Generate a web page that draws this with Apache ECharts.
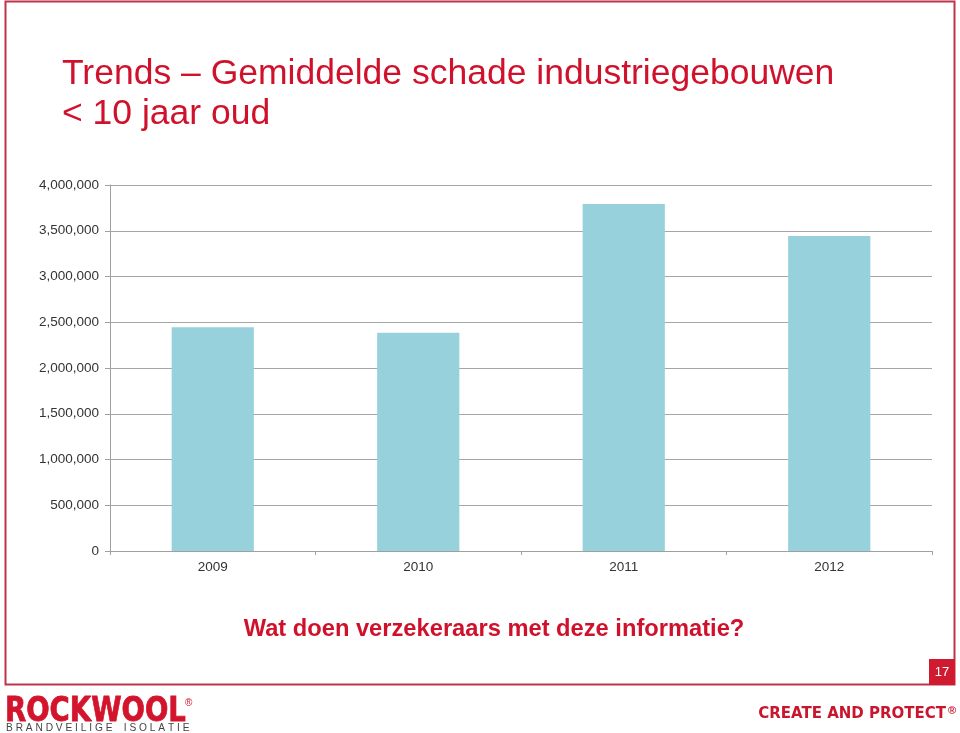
<!DOCTYPE html>
<html>
<head>
<meta charset="utf-8">
<script src="https://cdn.jsdelivr.net/npm/echarts@6/dist/echarts.min.js"></script>
<style>
html,body{margin:0;padding:0;background:#fff;}
#main{width:960px;height:733px;}
</style>
</head>
<body>
<div id="main"></div>
<script>
const categories = ['2009', '2010', '2011', '2012'];
const schade = [2445000, 2386000, 3792000, 3443000];
const yMin = 0, yMax = 4000000, yStep = 500000;
const titleLines = ['Trends \u2013 Gemiddelde schade industriegebouwen', '< 10 jaar oud'];
const subtitle = 'Wat doen verzekeraars met deze informatie?';
const pageNumber = '17';

const RED = '#d0112b';
const chart = echarts.init(document.getElementById('main'), null, {renderer: 'canvas'});
chart.setOption({
  backgroundColor: '#fff',
  animation: false,
  title: [
    {
      text: titleLines.join('\n'),
      left: 57, top: 49,
      textStyle: {fontFamily: 'Liberation Sans, Arial, sans-serif', fontSize: 35.5, fontWeight: 'normal', color: RED, lineHeight: 40}
    },
    {
      text: subtitle,
      left: 489, top: 612, textAlign: 'center',
      textStyle: {fontFamily: 'Liberation Sans, Arial, sans-serif', fontSize: 23.7, fontWeight: 'bold', color: RED}
    }
  ],
  grid: {left: 110, right: 28, top: 185, bottom: 182, containLabel: false},
  xAxis: {
    type: 'category',
    data: categories,
    axisLine: {lineStyle: {color: '#a0a0a0', width: 1}},
    axisTick: {show: true, length: 4, lineStyle: {color: '#a0a0a0'}},
    axisLabel: {color: '#333', fontSize: 13.5, fontFamily: 'Liberation Sans, Arial, sans-serif', margin: 9}
  },
  yAxis: {
    type: 'value',
    min: yMin, max: yMax, interval: yStep,
    axisLine: {show: true, lineStyle: {color: '#a0a0a0', width: 1}},
    axisTick: {show: true, length: 5, lineStyle: {color: '#a0a0a0'}},
    splitLine: {lineStyle: {color: '#a6a6a6', width: 1}},
    axisLabel: {
      color: '#333', fontSize: 13.5, fontFamily: 'Liberation Sans, Arial, sans-serif', margin: 11,
      formatter: v => v.toLocaleString('en-US')
    }
  },
  series: [{
    type: 'bar',
    data: schade,
    barWidth: '40%',
    itemStyle: {color: '#96d1dc'}
  }],
  graphic: [
    {type: 'rect', shape: {x: 5.5, y: 1.5, width: 949, height: 683}, style: {fill: 'none', stroke: '#c0344b', lineWidth: 2}, z: 10},
    {type: 'rect', shape: {x: 929, y: 659, width: 26, height: 26}, style: {fill: '#cf1a30'}, z: 11},
    {type: 'text', x: 942, y: 672, style: {text: pageNumber, fill: '#fff', fontSize: 13, fontFamily: 'Liberation Sans, Arial, sans-serif', align: 'center', verticalAlign: 'middle'}, z: 12},
    {type: 'text', x: 5, y: 712, scaleX: 0.81, style: {text: 'ROCKWOOL', fill: '#d2142c', fontSize: 34, fontWeight: 'bold', fontFamily: 'DejaVu Sans, Liberation Sans, sans-serif', verticalAlign: 'middle', stroke: '#d2142c', lineWidth: 0.8}, z: 12},
    {type: 'text', x: 185, y: 703, style: {text: '\u00ae', fill: '#d2142c', fontSize: 10, fontFamily: 'Liberation Sans, Arial, sans-serif', verticalAlign: 'middle'}, z: 12},
    {type: 'text', x: 6, y: 728, style: {text: 'B R A N D V E I L I G E    I S O L A T I E', fill: '#444', fontSize: 10.2, fontFamily: 'Liberation Sans, Arial, sans-serif', verticalAlign: 'middle'}, z: 12},
    {type: 'text', x: 946, y: 714, style: {text: 'CREATE AND PROTECT', fill: '#c8162e', fontSize: 15, fontWeight: 'bold', fontFamily: 'DejaVu Sans, Liberation Sans, sans-serif', align: 'right', verticalAlign: 'middle'}, z: 12},
    {type: 'text', x: 948, y: 711, style: {text: '\u00ae', fill: '#c8162e', fontSize: 11, fontWeight: 'bold', fontFamily: 'Liberation Sans, Arial, sans-serif', verticalAlign: 'middle'}, z: 12}
  ]
});
</script>
</body>
</html>
